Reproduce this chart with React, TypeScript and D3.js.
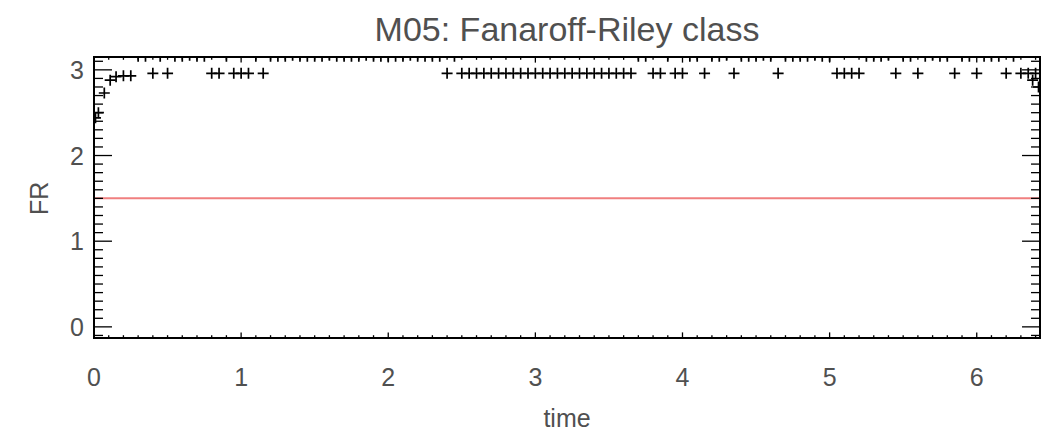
import React from "react";
import * as d3 from "d3";

// Simulation time samples and the Fanaroff-Riley class measured at each one.
const time = [
  0.01, 0.03, 0.07, 0.11, 0.15, 0.2, 0.25, 0.3, 0.35, 0.4,
  0.45, 0.5, 0.55, 0.6, 0.65, 0.7, 0.75, 0.8, 0.85, 0.9,
  0.95, 1.0, 1.05, 1.1, 1.15, 1.2, 1.25, 1.3, 1.35, 1.4,
  1.45, 1.5, 1.55, 1.6, 1.65, 1.7, 1.75, 1.8, 1.85, 1.9,
  1.95, 2.0, 2.05, 2.1, 2.15, 2.2, 2.25, 2.3, 2.35, 2.4,
  2.45, 2.5, 2.55, 2.6, 2.65, 2.7, 2.75, 2.8, 2.85, 2.9,
  2.95, 3.0, 3.05, 3.1, 3.15, 3.2, 3.25, 3.3, 3.35, 3.4,
  3.45, 3.5, 3.55, 3.6, 3.65, 3.7, 3.75, 3.8, 3.85, 3.9,
  3.95, 4.0, 4.05, 4.1, 4.15, 4.2, 4.25, 4.3, 4.35, 4.4,
  4.45, 4.5, 4.55, 4.6, 4.65, 4.7, 4.75, 4.8, 4.85, 4.9,
  4.95, 5.0, 5.05, 5.1, 5.15, 5.2, 5.25, 5.3, 5.35, 5.4,
  5.45, 5.5, 5.55, 5.6, 5.65, 5.7, 5.75, 5.8, 5.85, 5.9,
  5.95, 6.0, 6.05, 6.1, 6.15, 6.2, 6.25, 6.3, 6.35, 6.38,
  6.4, 6.42,
];

const fr = [
  2.44, 2.5, 2.73, 2.88, 2.92, 2.93, 2.93, 3.16, 3.16, 2.96,
  3.16, 2.96, 3.16, 3.16, 3.17, 3.16, 3.16, 2.96, 2.96, 3.16,
  2.96, 2.96, 2.96, 3.16, 2.96, 3.16, 3.16, 3.16, 3.17, 3.16,
  3.16, 3.16, 3.16, 3.17, 3.16, 3.16, 3.16, 3.16, 3.17, 3.16,
  3.16, 3.16, 3.16, 3.16, 3.17, 3.16, 3.16, 3.16, 3.16, 2.96,
  3.16, 2.96, 2.96, 2.96, 2.96, 2.96, 2.96, 2.96, 2.96, 2.96,
  2.96, 2.96, 2.96, 2.96, 2.96, 2.96, 2.96, 2.96, 2.96, 2.96,
  2.96, 2.96, 2.96, 2.96, 2.96, 3.16, 3.16, 2.96, 2.96, 3.16,
  2.96, 2.96, 3.16, 3.16, 2.96, 3.16, 3.16, 3.17, 2.96, 3.16,
  3.16, 3.16, 3.17, 3.16, 2.96, 3.16, 3.16, 3.16, 3.16, 3.17,
  3.16, 3.16, 2.96, 2.96, 2.96, 2.96, 3.16, 3.16, 3.16, 3.17,
  2.96, 3.16, 3.16, 2.96, 3.16, 3.17, 3.16, 3.16, 2.96, 3.16,
  3.16, 2.96, 3.16, 3.16, 3.16, 2.96, 3.16, 2.96, 2.96, 2.88,
  2.96, 2.8,
];

// FR = 1.5 divides the two Fanaroff-Riley classes.
const threshold = 1.5;

const xTicks = [0, 1, 2, 3, 4, 5, 6];
const yTicks = [0, 1, 2, 3];
const xDomain = [0, 6.43];
const yDomain = [-0.13, 3.15];

const title = "M05: Fanaroff-Riley class";
const xLabel = "time";
const yLabel = "FR";

const W = 1060;
const H = 435;
const plot = { left: 94, right: 1040, top: 57, bottom: 338 };

export default function App() {
  const x = d3.scaleLinear().domain(xDomain).range([plot.left, plot.right]);
  const y = d3.scaleLinear().domain(yDomain).range([plot.bottom, plot.top]);

  const plotW = plot.right - plot.left;
  const plotH = plot.bottom - plot.top;
  // tick lengths follow the IDL convention: a fraction of the perpendicular plot size
  const xMajor = plotH * 0.02;
  const yMajor = plotW * 0.019;

  const xMinor = d3.range(Math.ceil(xDomain[0] * 10), Math.floor(xDomain[1] * 10) + 1).map((i) => i / 10);
  const yMinor = d3.range(Math.ceil(yDomain[0] * 10), Math.floor(yDomain[1] * 10) + 1).map((i) => i / 10);

  const font = "'Liberation Sans', Arial, Helvetica, sans-serif";
  const textColor = "#505050";
  const arm = 5.5;

  return (
    <svg
      width={W}
      height={H}
      style={{ position: "absolute", left: 0, top: 0, background: "#fff" }}
      fontFamily={font}
    >
      <defs>
        <clipPath id="plot-clip">
          <rect x={plot.left} y={plot.top} width={plotW} height={plotH} />
        </clipPath>
      </defs>

      <text x={(plot.left + plot.right) / 2} y={41} textAnchor="middle" fontSize={34} fill={textColor}>
        {title}
      </text>

      {/* class divider */}
      <line
        x1={plot.left}
        x2={plot.right}
        y1={y(threshold)}
        y2={y(threshold)}
        stroke="#f07f7f"
        strokeWidth={2}
      />

      {/* data points as plus symbols */}
      <g clipPath="url(#plot-clip)" stroke="#000" strokeWidth={1.7}>
        {time.map((t, i) => {
          const cx = x(t);
          const cy = y(fr[i]);
          return (
            <path key={i} d={`M${cx - arm},${cy}H${cx + arm}M${cx},${cy - arm}V${cy + arm}`} />
          );
        })}
      </g>

      {/* axis ticks on all four sides */}
      <g stroke="#000" strokeWidth={1.3}>
        {xMinor.map((v) => {
          const major = xTicks.includes(Math.round(v * 10) / 10);
          const len = major ? xMajor : xMajor / 2;
          return (
            <g key={`x${v}`}>
              <line x1={x(v)} x2={x(v)} y1={plot.bottom} y2={plot.bottom - len} />
              <line x1={x(v)} x2={x(v)} y1={plot.top} y2={plot.top + len} />
            </g>
          );
        })}
        {yMinor.map((v) => {
          const major = yTicks.includes(Math.round(v * 10) / 10);
          const len = major ? yMajor : yMajor / 2;
          return (
            <g key={`y${v}`}>
              <line x1={plot.left} x2={plot.left + len} y1={y(v)} y2={y(v)} />
              <line x1={plot.right} x2={plot.right - len} y1={y(v)} y2={y(v)} />
            </g>
          );
        })}
      </g>

      <rect
        x={plot.left}
        y={plot.top}
        width={plotW}
        height={plotH}
        fill="none"
        stroke="#000"
        strokeWidth={2}
      />

      {xTicks.map((v) => (
        <text key={`xl${v}`} x={x(v)} y={386} textAnchor="middle" fontSize={25} fill={textColor}>
          {v}
        </text>
      ))}
      {yTicks.map((v) => (
        <text
          key={`yl${v}`}
          x={84}
          y={y(v)}
          dy="0.36em"
          textAnchor="end"
          fontSize={25}
          fill={textColor}
        >
          {v}
        </text>
      ))}

      <text x={(plot.left + plot.right) / 2} y={427} textAnchor="middle" fontSize={25} fill={textColor}>
        {xLabel}
      </text>
      <text
        transform={`translate(48, ${y(threshold)}) rotate(-90)`}
        textAnchor="middle"
        fontSize={25}
        fill={textColor}
      >
        {yLabel}
      </text>
    </svg>
  );
}
